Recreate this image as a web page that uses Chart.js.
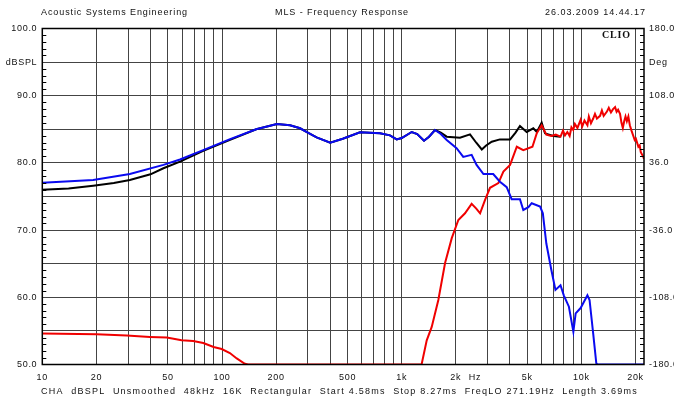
<!DOCTYPE html>
<html>
<head>
<meta charset="utf-8">
<script src="https://cdn.jsdelivr.net/npm/chart.js@4.4.1/dist/chart.umd.min.js"></script>
<style>
  html, body { margin: 0; padding: 0; background: #fff; }
  #wrap { width: 674px; height: 403px; position: relative; }
</style>
</head>
<body>
<div id="wrap"><canvas id="chart" width="674" height="403"></canvas></div>
<script>
const FONT = '"Liberation Sans", Arial, sans-serif';

// x axis: gridline positions and the labels shown under them
const X_TICKS = [10, 20, 30, 40, 50, 60, 70, 80, 90,
  100, 200, 300, 400, 500, 600, 700, 800, 900,
  1000, 2000, 3000, 4000, 5000, 6000, 7000, 8000, 9000,
  10000, 20000];
const X_LABELS = { 10: '10', 20: '20', 50: '50', 100: '100', 200: '200', 500: '500',
  1000: '1k', 2000: '2k', 5000: '5k', 10000: '10k', 20000: '20k' };
const LEFT_TICKS = [50, 55, 60, 65, 70, 75, 80, 85, 90, 95, 100];
const RIGHT_TICKS = [-180, -144, -108, -72, -36, 0, 36, 72, 108, 144, 180];

// black trace
const blackHz = [10, 14, 19.2, 25, 30.7, 40, 47.2, 58.4, 78.6, 110, 155, 202, 239, 272, 295, 336, 400,
  470, 586, 757, 860, 938, 1000, 1137, 1220, 1331, 1420, 1532, 1650, 1780, 2110, 2400, 2600,
  2790, 2950, 3170, 3520, 4010, 4300, 4550, 4960, 5400, 5650, 6010, 6270, 6980, 7650];
const blackDb = [76.0, 76.2, 76.6, 77.0, 77.45, 78.3, 79.2, 80.2, 81.8, 83.4, 85.0, 85.8, 85.6, 85.15, 84.6, 83.8, 83.0,
  83.6, 84.55, 84.4, 84.1, 83.5, 83.7, 84.6, 84.3, 83.3, 83.9, 84.9, 84.5, 83.9, 83.75, 84.25, 83.0,
  82.0, 82.6, 83.15, 83.5, 83.5, 84.5, 85.5, 84.6, 85.15, 84.6, 86.0, 84.4, 84.0, 83.9];

// blue trace
const blueHz = [10, 19.2, 30.7, 47.2, 58.4, 78.6, 110, 155, 202, 239, 272, 295, 336, 400,
  470, 586, 757, 860, 938, 1000, 1137, 1220, 1331, 1420, 1532, 1650, 1780, 2020, 2200, 2450,
  2610, 2850, 3230, 3520, 3840, 4090, 4550, 4750, 5070, 5290, 5890, 6100, 6380, 6800, 7170,
  7650, 7980, 8520, 9020, 9290, 9900, 10800, 11100, 11630, 12100, 12200, 22300];
const blueDb = [77.05, 77.45, 78.35, 79.7, 80.5, 81.9, 83.5, 85.0, 85.8, 85.6, 85.15, 84.6, 83.8, 83.0,
  83.6, 84.55, 84.4, 84.1, 83.5, 83.7, 84.6, 84.3, 83.3, 83.9, 84.9, 84.3, 83.4, 82.2, 80.9, 81.2,
  79.7, 78.35, 78.35, 77.2, 76.4, 74.6, 74.6, 73.0, 73.4, 74.0, 73.5, 72.5, 68.0, 64.1, 61.1,
  61.8, 60.3, 58.6, 54.9, 57.6, 58.4, 60.3, 59.6, 54.6, 50.2, 50.0, 50.0];

// red trace
const redHz = [10, 20, 29.5, 39.7, 49.3, 59.6, 69.1, 78.7, 89.8, 99.6, 110.6, 120.8, 134, 140, 1290,
  1378, 1469, 1599, 1743, 1899, 2066, 2250, 2450, 2600, 2730, 2910, 3100, 3450, 3680, 4010,
  4370, 4750, 5340, 5640, 6010, 6380, 6800, 7200, 7650, 7900, 8100, 8350, 8600, 8800, 9000,
  9200, 9500, 9900, 10100, 10400, 10800, 11000, 11300, 11630, 11900, 12200, 12700, 13000,
  13300, 13840, 14200, 14600, 15000, 15400, 15700, 16000, 16400, 16700, 17000, 17300, 17600,
  17900, 18250, 18600, 19000, 19450, 19800, 20100, 20750, 21100, 21400, 22100, 22300];
const redDb = [54.6, 54.5, 54.3, 54.1, 54.0, 53.6, 53.5, 53.2, 52.6, 52.3, 51.7, 50.9, 50.1, 50.0, 50.0,
  53.6, 55.6, 59.6, 65.1, 68.8, 71.5, 72.5, 73.9, 73.2, 72.5, 74.5, 76.3, 77.0, 78.7, 79.7,
  82.4, 81.9, 82.4, 84.4, 85.6, 84.2, 84.0, 84.2, 83.9, 84.8, 84.1, 84.6, 84.0, 85.3, 84.9,
  85.8, 85.2, 86.4, 85.4, 86.3, 85.6, 86.9, 85.9, 86.6, 87.3, 86.6, 87.0, 87.8,
  87.0, 87.6, 88.2, 87.5, 88.0, 88.3, 87.6, 87.9, 87.3, 86.0, 85.2, 86.2, 86.9,
  86.2, 86.9, 85.6, 84.8, 84.0, 83.4, 83.6, 82.4, 82.6, 81.6, 80.9, 80.6];

function points(hz, db) {
  return hz.map((f, i) => ({ x: f, y: db[i] }));
}

function trace(data, color, order) {
  return {
    data,
    borderColor: color,
    borderWidth: 2,
    pointRadius: 0,
    tension: 0,
    fill: false,
    order,
    yAxisID: 'y',
  };
}

// stretch text between two x positions, like the plotter's spaced font
function fitText(ctx, text, x0, x1, y) {
  ctx.letterSpacing = '0px';
  const w = ctx.measureText(text).width;
  const gap = (x1 - x0 - w) / text.length;
  ctx.letterSpacing = gap + 'px';
  ctx.textAlign = 'left';
  ctx.fillText(text, x0, y);
  ctx.letterSpacing = '0px';
}

const decorPlugin = {
  id: 'decor',
  beforeDraw(chart) {
    chart.ctx.letterSpacing = '0.7px';
  },
  afterDraw(chart) {
    const { ctx, chartArea: a, scales } = chart;
    ctx.save();
    ctx.fillStyle = '#111';
    ctx.textBaseline = 'middle';
    ctx.font = '9px ' + FONT;
    fitText(ctx, 'Acoustic Systems Engineering', 41, 188, 12.5);
    fitText(ctx, 'MLS - Frequency Response', 275, 409, 12.5);
    fitText(ctx, '26.03.2009 14.44.17', 545, 646, 12.5);
    fitText(ctx, 'CHA  dBSPL  Unsmoothed  48kHz  16K  Rectangular  Start 4.58ms  Stop 8.27ms  FreqLO 271.19Hz  Length 3.69ms',
      41, 638, 392);

    ctx.letterSpacing = '0.7px';
    ctx.textAlign = 'center';
    ctx.fillText('Hz', scales.x.getPixelForValue(2560), 378);

    ctx.font = 'bold 10px "Liberation Serif", "DejaVu Serif", serif';
    fitText(ctx, 'CLIO', 602, 631, 35);

    // inner tick marks every 1 dB
    ctx.strokeStyle = '#000';
    ctx.lineWidth = 1;
    ctx.beginPath();
    for (let v = 51; v < 100; v++) {
      if (v % 5 === 0) continue;
      const y = Math.round(scales.y.getPixelForValue(v)) + 0.5;
      ctx.moveTo(a.left, y);
      ctx.lineTo(a.left + 4, y);
      ctx.moveTo(a.right - 4, y);
      ctx.lineTo(a.right, y);
    }
    ctx.stroke();

    ctx.lineWidth = 1.5;
    ctx.strokeRect(a.left, a.top, a.right - a.left, a.bottom - a.top);
    ctx.restore();
  },
};

const tickFont = { family: FONT, size: 9 };

new Chart(document.getElementById('chart'), {
  type: 'line',
  data: {
    datasets: [
      trace(points(blueHz, blueDb), '#0a0af0', 1),
      trace(points(redHz, redDb), '#f00000', 2),
      trace(points(blackHz, blackDb), '#000000', 3),
    ],
  },
  options: {
    responsive: false,
    animation: false,
    devicePixelRatio: 1,
    layout: { padding: { top: 28.5, left: 0, right: 0, bottom: 0 } },
    plugins: {
      legend: { display: false },
      tooltip: { enabled: false },
      title: { display: false },
    },
    scales: {
      x: {
        type: 'logarithmic',
        min: 10,
        max: 22300,
        border: { display: false },
        grid: { color: '#444', lineWidth: 1, drawTicks: false },
        afterBuildTicks: axis => { axis.ticks = X_TICKS.map(v => ({ value: v })); },
        afterFit: scale => { scale.height = 38.5; },
        ticks: {
          autoSkip: false,
          maxRotation: 0,
          padding: 8,
          color: '#111',
          font: tickFont,
          callback: v => X_LABELS[v] || '',
        },
      },
      y: {
        type: 'linear',
        position: 'left',
        min: 50,
        max: 100,
        border: { display: false },
        grid: { color: '#444', lineWidth: 1, drawTicks: false },
        afterBuildTicks: axis => { axis.ticks = LEFT_TICKS.map(v => ({ value: v })); },
        afterFit: scale => { scale.width = 42.3; },
        ticks: {
          padding: 5,
          color: '#111',
          font: tickFont,
          callback: v => (v % 10 === 0 ? v.toFixed(1) : (v === 95 ? 'dBSPL' : '')),
        },
      },
      y2: {
        type: 'linear',
        position: 'right',
        min: -180,
        max: 180,
        border: { display: false },
        grid: { display: false, drawTicks: false },
        afterBuildTicks: axis => { axis.ticks = RIGHT_TICKS.map(v => ({ value: v })); },
        afterFit: scale => { scale.width = 30; },
        ticks: {
          padding: 5,
          color: '#111',
          font: tickFont,
          callback: v => ((180 - v) % 72 === 0 ? v.toFixed(1) : (v === 144 ? 'Deg' : '')),
        },
      },
    },
  },
  plugins: [decorPlugin],
});
</script>
</body>
</html>
